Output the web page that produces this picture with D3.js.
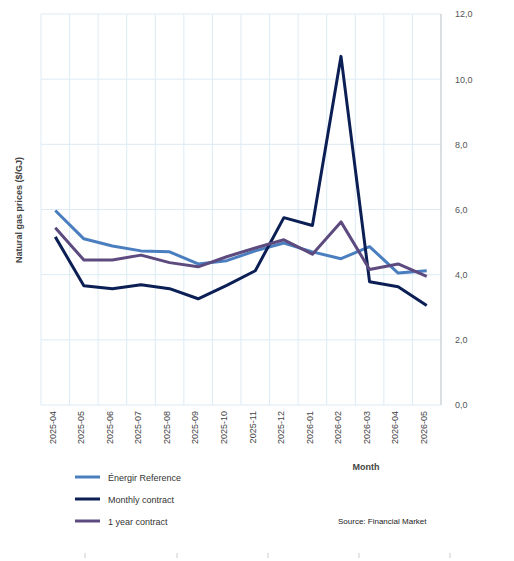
<!DOCTYPE html><html><head><meta charset="utf-8"><script src="https://d3js.org/d3.v7.min.js"></script>
<style>body{margin:0;background:#fff}text{font-family:Arial,"Liberation Sans",sans-serif}</style></head><body><svg id="c" width="514" height="561"></svg><script>
const months=["2025-04","2025-05","2025-06","2025-07","2025-08","2025-09","2025-10","2025-11","2025-12","2026-01","2026-02","2026-03","2026-04","2026-05"];
const energir=[5.97,5.1,4.88,4.73,4.7,4.33,4.43,4.73,4.97,4.7,4.49,4.86,4.05,4.12];
const monthly=[5.16,3.66,3.57,3.69,3.57,3.26,3.67,4.12,5.75,5.51,10.7,3.78,3.63,3.05];
const yearly=[5.44,4.45,4.45,4.6,4.37,4.24,4.55,4.82,5.07,4.63,5.62,4.16,4.33,3.95];
const yTicks=[0,2,4,6,8,10,12];
const series=[{name:"Énergir Reference",v:energir,c:"#4a7ebf"},{name:"Monthly contract",v:monthly,c:"#0b1f55"},{name:"1 year contract",v:yearly,c:"#5d4a7e"}];
const svg=d3.select("#c");
const L=41,R=441,T=14,B=405;
const x=d3.scaleBand().domain(months).range([L,R]);
const y=d3.scaleLinear().domain([0,12]).range([B,T]);
const g=svg.append("g");
months.forEach(m=>g.append("line").attr("x1",x(m)).attr("x2",x(m)).attr("y1",T).attr("y2",B).attr("stroke","#dcebf5"));
g.append("line").attr("x1",R).attr("x2",R).attr("y1",T).attr("y2",B).attr("stroke","#dcebf5");
yTicks.forEach(t=>g.append("line").attr("x1",L).attr("x2",R).attr("y1",y(t)).attr("y2",y(t)).attr("stroke","#dcebf5"));
g.append("line").attr("x1",441).attr("x2",441).attr("y1",T).attr("y2",B).attr("stroke","#c8c8c8");
const ya=svg.append("g").attr("transform",`translate(${R},0)`).call(d3.axisRight(y).tickValues(yTicks).tickFormat(d=>d3.format(".1f")(d).replace(".",",")).tickSize(0).tickPadding(14));
ya.select(".domain").remove();ya.selectAll("text").attr("font-size",9).attr("fill","#555");
const xa=svg.append("g").attr("transform",`translate(0,${B})`).call(d3.axisBottom(x).tickSize(0));
xa.select(".domain").remove();
xa.selectAll("text").attr("font-size",9).attr("fill","#444").attr("transform","rotate(-90)").attr("text-anchor","end").attr("dx","-6").attr("dy","-0.3em");
const line=d3.line().x((d,i)=>x(months[i])+x.bandwidth()/2).y(d=>y(d));
series.forEach(s=>svg.append("path").attr("d",line(s.v)).attr("fill","none").attr("stroke",s.c).attr("stroke-width",3).attr("stroke-linejoin","round"));
svg.append("text").attr("transform","translate(22,210) rotate(-90)").attr("text-anchor","middle").attr("font-size",9).attr("font-weight","bold").attr("fill","#444").text("Natural gas prices ($/GJ)");
svg.append("text").attr("x",366).attr("y",470).attr("text-anchor","middle").attr("font-size",9).attr("font-weight","bold").attr("fill","#444").text("Month");
series.forEach((s,i)=>{const yy=477+i*22;svg.append("line").attr("x1",75).attr("x2",100).attr("y1",yy).attr("y2",yy).attr("stroke",s.c).attr("stroke-width",3);
svg.append("text").attr("x",108).attr("y",yy+3.5).attr("font-size",9).attr("fill","#333").text(s.name);});
svg.append("text").attr("x",338).attr("y",524).attr("font-size",8).attr("fill","#222").text("Source: Financial Market");
[85,177,268,359,450].forEach(v=>svg.append("line").attr("x1",v).attr("x2",v).attr("y1",553).attr("y2",558).attr("stroke","#ccc"));
</script></body></html>
